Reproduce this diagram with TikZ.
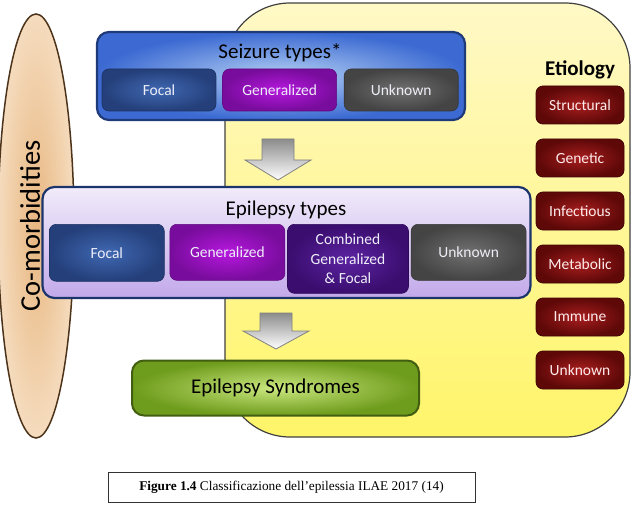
\documentclass[tikz,border=0pt]{standalone}
\usepackage{fontspec}
\setmainfont{Carlito}
\newfontfamily\capfont{Liberation Serif}
\usetikzlibrary{positioning, shapes.geometric}

\definecolor{navy}{HTML}{1F3A78}
\definecolor{seizout}{HTML}{3C6AD2}
\definecolor{seizin}{HTML}{B4D0F4}
\definecolor{focout}{HTML}{243F7A}
\definecolor{focin}{HTML}{4068B2}
\definecolor{genout}{HTML}{780C9C}
\definecolor{genin}{HTML}{B618DE}
\definecolor{unkout}{HTML}{444444}
\definecolor{unkin}{HTML}{707070}
\definecolor{combout}{HTML}{3A0D6E}
\definecolor{combin}{HTML}{5C24A2}
\definecolor{etout}{HTML}{5E0808}
\definecolor{etin}{HTML}{A81E1E}
\definecolor{synout}{HTML}{6E9C1C}
\definecolor{synin}{HTML}{CAE77E}
\definecolor{tanin}{HTML}{E8B680}
\definecolor{tanout}{HTML}{F5DCBE}
\definecolor{lavtop}{HTML}{F1EBFA}
\definecolor{lavbot}{HTML}{C2A9EA}
\definecolor{lighttext}{HTML}{EEEEF8}

\begin{document}
\begin{tikzpicture}[
    x=1pt, y=-1pt,
    region/.style={draw=black!75, line width=1.2pt, rounded corners=65pt, inner sep=0pt,
        top color=yellow!18!white!95!orange, bottom color=yellow!55!white!92!orange},
    comorb/.style={ellipse, draw=brown!40!black, line width=1.5pt, inner sep=0pt,
        inner color=tanin, outer color=tanout},
    outerbox/.style={draw=navy, line width=2.2pt, rounded corners=12pt, inner sep=0pt},
    title/.style={font=\fontsize{21}{24}\selectfont, inner sep=0pt},
    inbox/.style={rounded corners=7pt, minimum width=114pt, minimum height=42pt, inner sep=1pt,
        align=center, text=lighttext, font=\fontsize{15.5}{18}\selectfont},
    etbox/.style={inbox, minimum width=88pt, minimum height=38pt, draw=etout!70!black, line width=0.8pt,
        inner color=etin, outer color=etout, text=red!8!white},
    focal/.style={draw=focout!80!black, line width=0.6pt, inner color=focin, outer color=focout},
    general/.style={draw=genout!80!black, line width=0.6pt, inner color=genin, outer color=genout},
    unknown/.style={draw=unkout!80!black, line width=0.6pt, inner color=unkin, outer color=unkout},
    combined/.style={draw=combout!80!black, line width=0.6pt, inner color=combin, outer color=combout},
    blockarrow/.style={draw=black!50, line width=0.8pt, top color=black!45, bottom color=white}
]
\useasboundingbox (0,0) rectangle (634,505);

\node[region, minimum width=405pt, minimum height=434pt] (etio) at (427.5,220) {};
\node[comorb, minimum width=76pt, minimum height=424pt] (comorb) at (36,226) {};
\node[rotate=90, font=\fontsize{28.5}{32}\selectfont, inner sep=0pt] (comorbtxt) at (30,226) {Co-morbidities};

% seizure types
\node[outerbox, inner color=seizin, outer color=seizout, minimum width=368pt, minimum height=88pt] (seizure) at (281,76) {};
\node[title] (seiztitle) at (280,53) {Seizure types*};
\node[inbox, focal] (sfocal) at (159,90) {Focal};
\node[inbox, general, right=6pt of sfocal] (sgen) {Generalized};
\node[inbox, unknown, right=7pt of sgen] (sunk) {Unknown};

\draw[blockarrow] (262,139) -- (294,139) -- (294,160) -- (311,160) -- (278,180) -- (245,160) -- (262,160) -- cycle;

% epilepsy types
\node[outerbox, draw=navy!90!black, top color=lavtop, bottom color=lavbot,
    minimum width=488pt, minimum height=111pt] (eptypes) at (286.5,242.5) {};
\node[title] (eptitle) at (286,210) {Epilepsy types};
\node[inbox, focal, minimum width=115pt, minimum height=57pt, anchor=north west] (efocal) at (49,224) {Focal};
\node[inbox, general, minimum width=115pt, minimum height=56pt, right=5pt of efocal.north east, anchor=north west] (egen) {Generalized};
\node[inbox, combined, minimum width=121pt, minimum height=69pt, right=2pt of egen.north east, anchor=north west,
    font=\fontsize{15.5}{19.5}\selectfont] (ecomb) {Combined\\Generalized\\\& Focal};
\node[inbox, unknown, minimum width=115pt, minimum height=56pt, right=2pt of ecomb.north east, anchor=north west] (eunk) {Unknown};

\draw[blockarrow] (260,313) -- (292,313) -- (292,331) -- (309,331) -- (276,349) -- (243,331) -- (260,331) -- cycle;

% syndromes
\node[outerbox, draw=synout!60!black, line width=2pt, inner color=synin, outer color=synout,
    minimum width=287pt, minimum height=55pt, title] (syn) at (275.5,388) {Epilepsy Syndromes};

% etiology
\node[title, font=\fontsize{21}{24}\selectfont\bfseries] (etitle) at (580,70) {Etiology};
\foreach \lab [count=\i] in {Structural,Genetic,Infectious,Metabolic,Immune,Unknown}
    \node[etbox] (et\i) at (580,52+53*\i) {\lab};

\node[draw=black!80, line width=1pt, minimum width=367pt, minimum height=30pt, inner sep=0pt,
    font=\capfont\fontsize{13.3}{15}\selectfont] (caption) at (291.5,487)
    {\textbf{Figure 1.4} Classificazione dell’epilessia ILAE 2017 (14)};
\end{tikzpicture}
\end{document}
